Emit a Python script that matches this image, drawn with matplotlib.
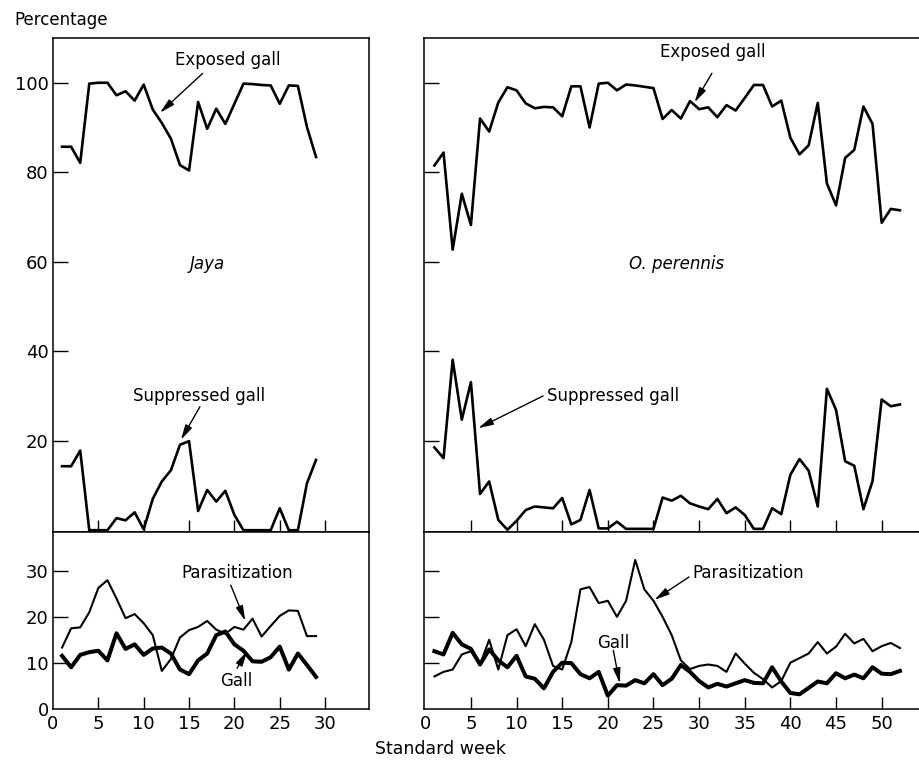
import matplotlib
matplotlib.use("Agg")
import matplotlib.pyplot as plt
import numpy as np

plt.rcParams['font.family'] = ['DejaVu Sans']

# ---------------- data ----------------
jaya_weeks = list(range(1, 30))
jaya_exposed = [85.7, 85.7, 82.1, 99.8, 100, 100, 97.2, 98.1, 96.0, 99.6,
                94.0, 91.0, 87.5, 81.6, 80.4, 95.7, 89.7, 94.2, 90.8, 95.3,
                99.8, 99.7, 99.5, 99.4, 95.3, 99.4, 99.3, 90.1, 83.4]
jaya_suppressed = [14.3, 14.3, 17.8, 0, 0, 0, 2.7, 2.2, 4.0, 0.2,
                   7.0, 10.9, 13.4, 19.1, 19.9, 4.3, 9.0, 6.4, 8.8, 3.4,
                   0, 0, 0, 0, 4.9, 0, 0, 10.5, 15.7]
jaya_parasitization = [13.3, 17.5, 17.7, 21.0, 26.3, 28.0, 24.0, 19.7, 20.6, 18.6,
                       16.0, 8.2, 10.8, 15.5, 17.1, 17.8, 19.1, 17.2, 16.3, 17.8,
                       17.2, 19.6, 15.7, 18.0, 20.2, 21.4, 21.3, 15.8, 15.8]
jaya_gall = [11.5, 9.0, 11.7, 12.3, 12.6, 10.5, 16.4, 13.0, 14.0, 11.7,
             13.1, 13.3, 12.0, 8.5, 7.5, 10.5, 12.0, 16.0, 16.8, 14.0,
             12.6, 10.3, 10.2, 11.2, 13.5, 8.5, 12.0, 9.5, 6.9]

oper_weeks = list(range(1, 53))
oper_exposed = [81.5, 84.4, 62.7, 75.2, 68.2, 92.0, 89.1, 95.6, 99.0, 98.3,
                95.4, 94.3, 94.6, 94.5, 92.5, 99.2, 99.2, 90.0, 99.8, 100,
                98.3, 99.6, 99.4, 99.1, 98.8, 91.9, 93.9, 92.0, 95.9, 94.1,
                94.5, 92.3, 95.0, 93.8, 96.6, 99.5, 99.5, 94.7, 96.0, 87.7,
                84.0, 86.0, 95.5, 77.5, 72.6, 83.2, 85.0, 94.7, 90.8, 68.7,
                71.8, 71.5]
oper_suppressed = [18.5, 16.1, 38.1, 24.7, 33.1, 8.1, 10.9, 2.3, 0.1, 2.1,
                   4.5, 5.3, 5.1, 4.9, 7.2, 1.3, 2.3, 9.0, 0.4, 0.4,
                   1.9, 0.3, 0.3, 0.3, 0.3, 7.3, 6.6, 7.7, 6.0, 5.3,
                   4.7, 7.0, 3.8, 5.1, 3.4, 0.3, 0.3, 4.9, 3.6, 12.4,
                   15.9, 13.3, 5.3, 31.6, 26.9, 15.4, 14.4, 4.7, 11.0, 29.2,
                   27.7, 28.1]
oper_parasitization = [7.0, 8.0, 8.5, 11.8, 12.5, 9.6, 15.0, 8.5, 16.0, 17.3,
                       13.6, 18.4, 15.0, 9.3, 8.5, 14.5, 26.0, 26.5, 23.0, 23.5,
                       20.0, 23.5, 32.4, 26.0, 23.5, 20.0, 16.0, 10.5, 8.6, 9.3,
                       9.6, 9.3, 8.0, 12.0, 9.8, 7.8, 6.4, 4.6, 6.0, 10.0,
                       11.0, 12.0, 14.5, 12.0, 13.5, 16.3, 14.2, 15.2, 12.5, 13.6,
                       14.3, 13.2]
oper_gall = [12.5, 11.8, 16.5, 14.0, 13.0, 9.6, 12.9, 10.5, 9.0, 11.5,
             7.0, 6.5, 4.4, 8.0, 10.0, 9.9, 7.5, 6.6, 8.0, 2.8,
             5.1, 5.0, 6.2, 5.5, 7.5, 5.1, 6.5, 9.5, 8.0, 6.0,
             4.6, 5.4, 4.8, 5.5, 6.2, 5.6, 5.5, 9.0, 5.9, 3.4,
             3.1, 4.5, 5.9, 5.5, 7.7, 6.6, 7.4, 6.6, 9.0, 7.6,
             7.5, 8.2]

top_yticks = [20, 40, 60, 80, 100]
bot_yticks = [0, 10, 20, 30]
jaya_xticks = [0, 5, 10, 15, 20, 25, 30]
oper_xticks = [0, 5, 10, 15, 20, 25, 30, 35, 40, 45, 50]

# ---------------- figure ----------------
W, H = 920, 764
fig = plt.figure(figsize=(W / 100, H / 100), dpi=100)

def frac(x0, y0, x1, y1):
    return [x0 / W, 1 - y1 / H, (x1 - x0) / W, (y1 - y0) / H]

axLt = fig.add_axes(frac(53, 38, 369, 532))
axLb = fig.add_axes(frac(53, 532, 369, 709))
axRt = fig.add_axes(frac(424, 38, 920, 532))
axRb = fig.add_axes(frac(424, 532, 920, 709))

FS_TICK = 13
FS_ANN = 12
TOP_LW = 1.9
PAR_LW = 1.5
GALL_LW = 2.9

for ax in (axLt, axLb, axRt, axRb):
    for s in ax.spines.values():
        s.set_linewidth(1.1)
    ax.tick_params(axis='y', direction='in', length=11, width=1.0,
                   labelsize=FS_TICK, pad=3)
    ax.tick_params(axis='x', direction='in', length=8.5, width=1.0,
                   labelsize=FS_TICK, pad=4)

for ax in (axRt, axRb):
    ax.spines['right'].set_visible(False)

# limits
axLt.set_xlim(0, 34.84)
axLb.set_xlim(0, 34.84)
axRt.set_xlim(-0.14, 54.2)
axRb.set_xlim(-0.14, 54.2)
for ax in (axLt, axRt):
    ax.set_ylim(-0.4, 110)
for ax in (axLb, axRb):
    ax.set_ylim(-0.1, 38.5)

# ticks
axLt.set_yticks(top_yticks)
axRt.set_yticks(top_yticks)
axRt.set_yticklabels([])
axLb.set_yticks(bot_yticks)
axRb.set_yticks(bot_yticks)
axRb.set_yticklabels([])

axLt.set_xticks(jaya_xticks[1:])
axLt.set_xticklabels([])
axRt.set_xticks(oper_xticks[1:])
axRt.set_xticklabels([])
axLb.set_xticks(jaya_xticks)
axRb.set_xticks(oper_xticks)

# hide the tick marks sitting in the bottom-left corners (keep labels)
for ax in (axLb, axRb):
    ax.xaxis.get_major_ticks()[0].tick1line.set_visible(False)
    ax.yaxis.get_major_ticks()[0].tick1line.set_visible(False)

# lines
axLt.plot(jaya_weeks, jaya_exposed, color='black', lw=TOP_LW)
axLt.plot(jaya_weeks, jaya_suppressed, color='black', lw=TOP_LW, clip_on=False)
axLb.plot(jaya_weeks, jaya_parasitization, color='black', lw=PAR_LW)
axLb.plot(jaya_weeks, jaya_gall, color='black', lw=GALL_LW)

axRt.plot(oper_weeks, oper_exposed, color='black', lw=TOP_LW)
axRt.plot(oper_weeks, oper_suppressed, color='black', lw=TOP_LW, clip_on=False)
axRb.plot(oper_weeks, oper_parasitization, color='black', lw=PAR_LW)
axRb.plot(oper_weeks, oper_gall, color='black', lw=GALL_LW)

arrow = dict(arrowstyle='-|>,head_length=0.9,head_width=0.22', color='black',
             lw=1.0, shrinkA=0, shrinkB=0)

def ann(ax, text, xy, xytext, tx, ty, ha='center'):
    ax.annotate('', xy=xy, xytext=xytext, arrowprops=arrow)
    ax.text(tx, ty, text, ha=ha, va='center', fontsize=FS_ANN)

# Jaya annotations
ann(axLt, 'Exposed gall', (11.8, 93.3), (16.5, 102.1), 19.3, 105.0)
ann(axLt, 'Suppressed gall', (14.1, 20.2), (16.2, 27.6), 16.1, 29.9)
ann(axLb, 'Parasitization', (21.2, 19.1), (19.6, 26.9), 20.3, 29.6)
ann(axLb, 'Gall', (21.4, 12.5), (20.3, 8.8), 20.2, 6.0)
axLt.text(17.0, 59.5, 'Jaya', style='italic', ha='center', va='center',
          fontsize=FS_ANN)

# O. perennis annotations
ann(axRt, 'Exposed gall', (29.5, 95.6), (31.4, 102.1), 31.5, 106.8)
ann(axRt, 'Suppressed gall', (5.8, 22.8), (12.9, 30.0), 13.3, 30.0, ha='left')
ann(axRb, 'Parasitization', (25.1, 23.7), (28.9, 28.7), 29.3, 29.6, ha='left')
ann(axRb, 'Gall', (21.3, 5.5), (20.6, 12.7), 20.6, 14.3)
axRt.text(27.5, 59.5, 'O. perennis', style='italic', ha='center', va='center',
          fontsize=FS_ANN)

fig.text(61 / W, 1 - 20 / H, 'Percentage', ha='center', va='center', fontsize=12)
fig.text(440 / W, 1 - 749 / H, 'Standard week', ha='center', va='center', fontsize=12.5)

fig.savefig('out.png', dpi=100)
